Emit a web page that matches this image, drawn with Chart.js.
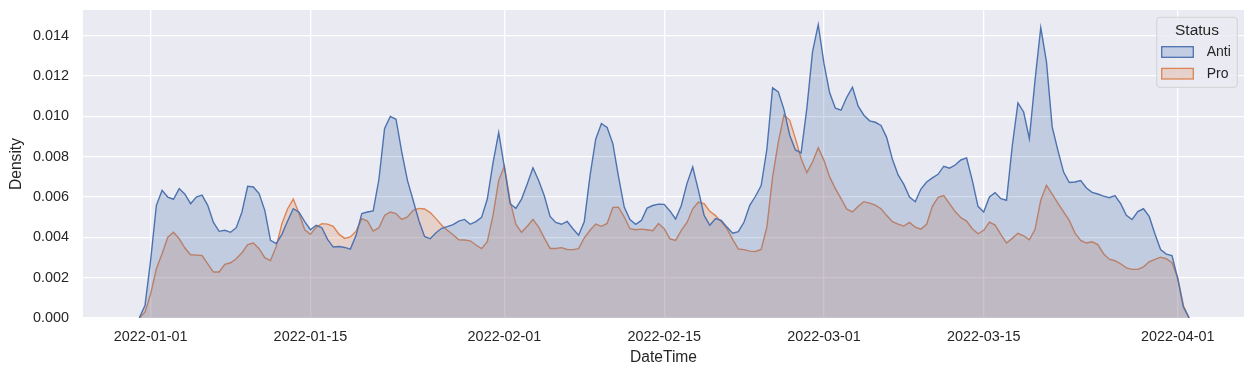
<!DOCTYPE html>
<html>
<head>
<meta charset="utf-8">
<script src="https://cdn.jsdelivr.net/npm/chart.js@4.4.1/dist/chart.umd.min.js"></script>
<style>
  html, body { margin: 0; padding: 0; background: #ffffff; }
</style>
</head>
<body>
<canvas id="densityChart" width="1254" height="375"></canvas>
<script>
// KDE evaluation grid, in days from 2022-01-01
const gridStart = -1;
const gridStep = 0.5;

const seriesNames = ["Anti", "Pro"];

const antiDensity = [
  0, 0.00062, 0.00287, 0.00559, 0.00633, 0.00600, 0.00589, 0.00642, 0.00614, 0.00567,
  0.00600, 0.00610, 0.00559, 0.00474, 0.00430, 0.00435, 0.00425, 0.00448, 0.00526, 0.00653,
  0.00650, 0.00617, 0.00534, 0.00385, 0.00369, 0.00415, 0.00481, 0.00542, 0.00525, 0.00478,
  0.00438, 0.00460, 0.00448, 0.00390, 0.00352, 0.00355, 0.00350, 0.00342, 0.00410, 0.00518,
  0.00526, 0.00531, 0.00687, 0.00940, 0.01000, 0.00986, 0.00824, 0.00683, 0.00584, 0.00484,
  0.00405, 0.00393, 0.00423, 0.00445, 0.00453, 0.00463, 0.00481, 0.00489, 0.00465, 0.00478,
  0.00499, 0.00590, 0.00769, 0.00920, 0.00746, 0.00567, 0.00544, 0.00590, 0.00665, 0.00745,
  0.00682, 0.00605, 0.00504, 0.00474, 0.00465, 0.00479, 0.00443, 0.00411, 0.00479, 0.00705,
  0.00887, 0.00965, 0.00945, 0.00865, 0.00700, 0.00550, 0.00488, 0.00465, 0.00484, 0.00545,
  0.00558, 0.00565, 0.00564, 0.00531, 0.00491, 0.00558, 0.00668, 0.00749, 0.00633, 0.00509,
  0.00460, 0.00493, 0.00484, 0.00451, 0.00421, 0.00428, 0.00476, 0.00559, 0.00604, 0.00657,
  0.00837, 0.01142, 0.01122, 0.01034, 0.00907, 0.00834, 0.00819, 0.01039, 0.01320, 0.01455,
  0.01263, 0.01117, 0.01041, 0.01031, 0.01095, 0.01145, 0.01051, 0.01006, 0.00978, 0.00971,
  0.00955, 0.00895, 0.00787, 0.00710, 0.00663, 0.00600, 0.00577, 0.00640, 0.00675, 0.00695,
  0.00713, 0.00753, 0.00743, 0.00759, 0.00784, 0.00794, 0.00683, 0.00554, 0.00526, 0.00600,
  0.00622, 0.00592, 0.00584, 0.00852, 0.01067, 0.01022, 0.00890, 0.01180, 0.01440, 0.01271,
  0.00948, 0.00832, 0.00724, 0.00672, 0.00675, 0.00682, 0.00645, 0.00623, 0.00615, 0.00605,
  0.00597, 0.00607, 0.00567, 0.00509, 0.00488, 0.00528, 0.00542, 0.00504, 0.00418, 0.00340,
  0.00317, 0.00310, 0.00195, 0.00054, 0
];

const proDensity = [
  0, 0.00029, 0.00120, 0.00244, 0.00319, 0.00401, 0.00425, 0.00393, 0.00347, 0.00314,
  0.00312, 0.00310, 0.00269, 0.00228, 0.00228, 0.00266, 0.00274, 0.00294, 0.00324, 0.00364,
  0.00372, 0.00344, 0.00299, 0.00285, 0.00354, 0.00468, 0.00542, 0.00590, 0.00518, 0.00438,
  0.00415, 0.00450, 0.00468, 0.00466, 0.00455, 0.00416, 0.00395, 0.00402, 0.00431, 0.00493,
  0.00481, 0.00431, 0.00448, 0.00509, 0.00526, 0.00518, 0.00489, 0.00501, 0.00534, 0.00544,
  0.00541, 0.00523, 0.00493, 0.00460, 0.00435, 0.00413, 0.00388, 0.00387, 0.00383, 0.00362,
  0.00344, 0.00379, 0.00509, 0.00683, 0.00754, 0.00580, 0.00465, 0.00425, 0.00455, 0.00489,
  0.00451, 0.00396, 0.00345, 0.00345, 0.00349, 0.00340, 0.00339, 0.00344, 0.00398, 0.00435,
  0.00466, 0.00455, 0.00469, 0.00548, 0.00550, 0.00501, 0.00443, 0.00438, 0.00441, 0.00438,
  0.00433, 0.00469, 0.00443, 0.00393, 0.00385, 0.00435, 0.00474, 0.00542, 0.00575, 0.00567,
  0.00529, 0.00508, 0.00478, 0.00443, 0.00390, 0.00342, 0.00339, 0.00332, 0.00330, 0.00340,
  0.00451, 0.00700, 0.00872, 0.01008, 0.00981, 0.00890, 0.00791, 0.00721, 0.00774, 0.00845,
  0.00782, 0.00700, 0.00642, 0.00592, 0.00540, 0.00526, 0.00554, 0.00577, 0.00570, 0.00560,
  0.00542, 0.00508, 0.00478, 0.00466, 0.00456, 0.00474, 0.00451, 0.00441, 0.00465, 0.00554,
  0.00599, 0.00607, 0.00567, 0.00528, 0.00498, 0.00481, 0.00443, 0.00418, 0.00435, 0.00476,
  0.00461, 0.00415, 0.00372, 0.00395, 0.00420, 0.00408, 0.00388, 0.00440, 0.00584, 0.00658,
  0.00614, 0.00570, 0.00526, 0.00484, 0.00421, 0.00385, 0.00372, 0.00378, 0.00364, 0.00319,
  0.00292, 0.00284, 0.00269, 0.00249, 0.00241, 0.00241, 0.00254, 0.00279, 0.00291, 0.00302,
  0.00294, 0.00274, 0.00200, 0.00062, 0
];

const tickDays = [0, 14, 31, 45, 59, 73, 90];
const tickLabels = ["2022-01-01", "2022-01-15", "2022-02-01", "2022-02-15", "2022-03-01", "2022-03-15", "2022-04-01"];
const yTicks = [0, 0.002, 0.004, 0.006, 0.008, 0.010, 0.012, 0.014];

const FONT = "Arial, 'Liberation Sans', sans-serif";
const TEXT = "#262626";

function toPoints(values) {
    return values.map((v, i) => ({ x: gridStart + i * gridStep, y: v }));
}

// grey plot background like seaborn darkgrid
const plotBackground = {
    id: "plotBackground",
    beforeDraw(chart) {
        const { ctx, chartArea: a } = chart;
        ctx.save();
        ctx.fillStyle = "#EAEAF2";
        ctx.fillRect(a.left, a.top, a.right - a.left, a.bottom - a.top);
        ctx.restore();
    }
};

// legend box with title, drawn on top of everything
const statusLegend = {
    id: "statusLegend",
    afterDraw(chart) {
        const { ctx, chartArea: a } = chart;
        const w = 80.6, h = 70;
        const x = a.right - 6.7 - w, y = a.top + 7.3;
        ctx.save();
        ctx.beginPath();
        ctx.roundRect(x, y, w, h, 3);
        ctx.fillStyle = "rgba(234,234,242,0.8)";
        ctx.fill();
        ctx.strokeStyle = "rgba(204,204,204,0.8)";
        ctx.lineWidth = 1;
        ctx.stroke();

        ctx.fillStyle = TEXT;
        ctx.font = "15.5px " + FONT;
        ctx.textAlign = "center";
        ctx.textBaseline = "middle";
        ctx.fillText("Status", x + w / 2, y + 13.4);

        ctx.font = "14px " + FONT;
        ctx.textAlign = "left";
        chart.data.datasets.forEach((ds, i) => {
            const cy = y + 34.7 + i * 21.7;
            ctx.fillStyle = ds.backgroundColor;
            ctx.fillRect(x + 5, cy - 5.3, 31.6, 10.6);
            ctx.strokeStyle = ds.borderColor;
            ctx.lineWidth = 1.3;
            ctx.strokeRect(x + 5, cy - 5.3, 31.6, 10.6);
            ctx.fillStyle = TEXT;
            ctx.fillText(ds.label, x + 50, cy + 0.5);
        });
        ctx.restore();
    }
};

const ctx = document.getElementById("densityChart").getContext("2d");

new Chart(ctx, {
    type: "line",
    data: {
        datasets: [
            {
                label: seriesNames[0],
                data: toPoints(antiDensity),
                borderColor: "#4C72B0",
                backgroundColor: "rgba(76,114,176,0.25)",
                borderWidth: 1.4,
                fill: "origin",
                pointRadius: 0,
                tension: 0
            },
            {
                label: seriesNames[1],
                data: toPoints(proDensity),
                borderColor: "#DD8452",
                backgroundColor: "rgba(221,132,82,0.25)",
                borderWidth: 1.4,
                fill: "origin",
                pointRadius: 0,
                tension: 0
            }
        ]
    },
    options: {
        responsive: false,
        devicePixelRatio: 1,
        animation: false,
        layout: { padding: { top: 10, right: 10, left: 0, bottom: 0 } },
        plugins: {
            legend: { display: false },
            tooltip: { enabled: false }
        },
        scales: {
            x: {
                type: "linear",
                min: -5.93,
                max: 95.81,
                afterBuildTicks: (s) => { s.ticks = tickDays.map(v => ({ value: v })); },
                afterFit: (s) => { s.height = 57; s.paddingLeft = 0; s.paddingRight = 0; },
                ticks: {
                    callback: (v) => tickLabels[tickDays.indexOf(v)],
                    color: TEXT,
                    font: { family: FONT, size: 14.4 },
                    padding: 10,
                    maxRotation: 0,
                    autoSkip: false
                },
                grid: { color: "#FFFFFF", lineWidth: 1.3, drawTicks: false },
                border: { display: false },
                title: {
                    display: true,
                    text: "DateTime",
                    color: TEXT,
                    font: { family: FONT, size: 15.6 },
                    padding: { top: 0, bottom: 8 }
                }
            },
            y: {
                min: 0,
                max: 0.01528,
                afterBuildTicks: (s) => { s.ticks = yTicks.map(v => ({ value: v })); },
                afterFit: (s) => { s.width = 83; s.paddingTop = 0; s.paddingBottom = 0; },
                ticks: {
                    callback: (v) => v.toFixed(3),
                    color: TEXT,
                    font: { family: FONT, size: 14.4 },
                    padding: 14
                },
                grid: { color: "#FFFFFF", lineWidth: 1.3, drawTicks: false },
                border: { display: false },
                title: {
                    display: true,
                    text: "Density",
                    color: TEXT,
                    font: { family: FONT, size: 15.6 },
                    padding: { top: 7, bottom: 0 }
                }
            }
        }
    },
    plugins: [plotBackground, statusLegend]
});
</script>
</body>
</html>
